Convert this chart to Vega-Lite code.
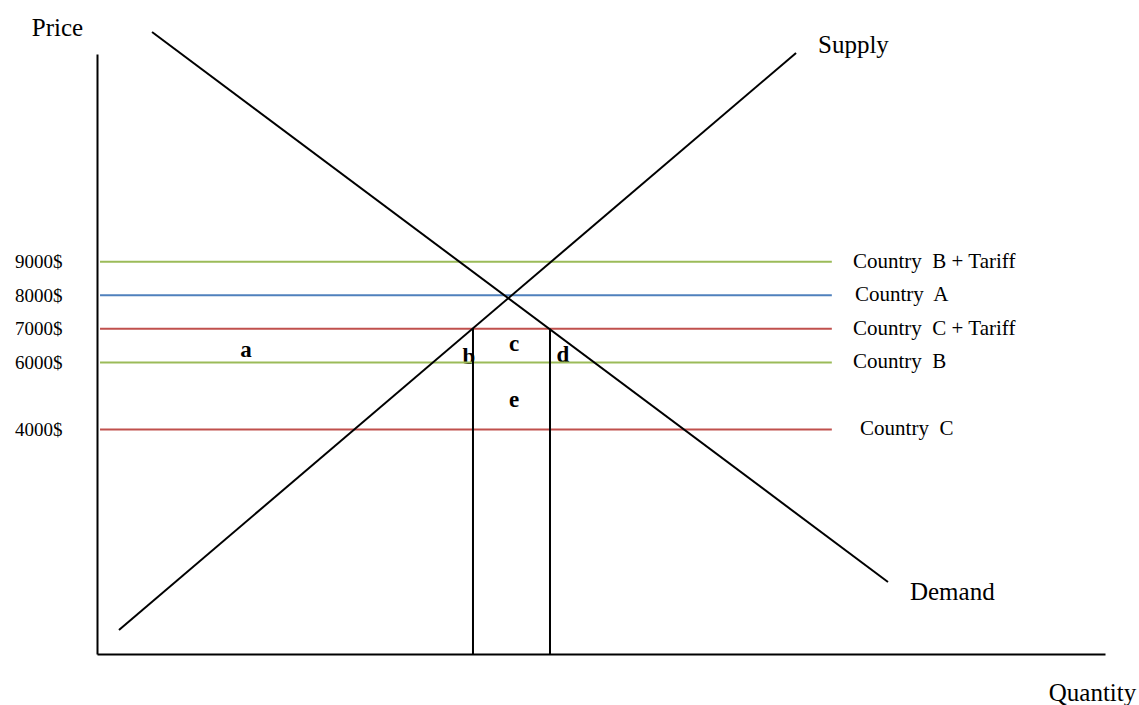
{
  "$schema": "https://vega.github.io/schema/vega-lite/v6.json",
  "width": 1008,
  "height": 600,
  "autosize": {"type": "none"},
  "padding": {"left": 97, "top": 54, "right": 34, "bottom": 51},
  "background": "white",
  "config": {"view": {"stroke": null}},
  "data": {
    "values": [
      {"type": "letter", "label": "a", "q": 14.78, "p": 6369},
      {"type": "letter", "label": "b", "q": 36.9, "p": 6160},
      {"type": "letter", "label": "c", "q": 41.37, "p": 6548},
      {"type": "letter", "label": "d", "q": 46.23, "p": 6220},
      {"type": "letter", "label": "e", "q": 41.37, "p": 4878},
      {"type": "hline", "group": "Country B + Tariff", "q": 0.3, "q2": 72.9, "p": 9000},
      {"type": "hline", "group": "Country A", "q": 0.3, "q2": 72.9, "p": 8000},
      {"type": "hline", "group": "Country C + Tariff", "q": 0.3, "q2": 72.9, "p": 7000},
      {"type": "hline", "group": "Country B", "q": 0.3, "q2": 72.9, "p": 6000},
      {"type": "hline", "group": "Country C", "q": 0.3, "q2": 72.9, "p": 4000},
      {"type": "seg", "label": "Supply", "q": 2.18, "p": -1984, "q2": 69.35, "p2": 15230},
      {"type": "seg", "label": "Demand", "q": 5.46, "p": 15856, "q2": 78.47, "p2": -552},
      {"type": "seg", "label": "import1", "q": 37.3, "p": 7000, "q2": 37.3, "p2": -2700},
      {"type": "seg", "label": "import2", "q": 44.94, "p": 7000, "q2": 44.94, "p2": -2700},
      {"type": "label", "label": "Country\u00a0 B + Tariff", "q": 75.0, "p": 9000},
      {"type": "label", "label": "Country\u00a0 A", "q": 75.2, "p": 8000},
      {"type": "label", "label": "Country\u00a0 C + Tariff", "q": 75.0, "p": 7000},
      {"type": "label", "label": "Country\u00a0 B", "q": 75.0, "p": 6000},
      {"type": "label", "label": "Country\u00a0 C", "q": 75.7, "p": 4000},
      {"type": "curve", "label": "Supply", "q": 71.53, "p": 15468},
      {"type": "curve", "label": "Demand", "q": 80.65, "p": -850}
    ]
  },
  "encoding": {
    "x": {
      "field": "q",
      "type": "quantitative",
      "scale": {"domain": [0, 100], "nice": false, "zero": false},
      "axis": {
        "title": "Quantity",
        "domain": true,
        "domainColor": "black",
        "domainWidth": 2,
        "ticks": false,
        "labels": false,
        "grid": false,
        "titleX": 995,
        "titleY": 46,
        "titleAlign": "center",
        "titleBaseline": "alphabetic",
        "titleFont": "Liberation Serif",
        "titleFontSize": 25,
        "titleFontWeight": "normal",
        "titleColor": "black"
      }
    },
    "y": {
      "field": "p",
      "type": "quantitative",
      "scale": {"domain": [-2700, 15200], "nice": false, "zero": false},
      "axis": {
        "title": "Price",
        "values": [4000, 6000, 7000, 8000, 9000],
        "labelExpr": "datum.value + '$'",
        "ticks": false,
        "grid": false,
        "domainColor": "black",
        "domainWidth": 2,
        "labelPadding": 35,
        "labelFont": "Liberation Serif",
        "labelFontSize": 19,
        "labelColor": "black",
        "titleAngle": 0,
        "titleX": -40,
        "titleY": -19,
        "titleAlign": "center",
        "titleBaseline": "alphabetic",
        "titleFont": "Liberation Serif",
        "titleFontSize": 25,
        "titleFontWeight": "normal",
        "titleColor": "black"
      }
    }
  },
  "layer": [
    {
      "transform": [{"filter": "datum.type == 'letter'"}],
      "mark": {"type": "text", "font": "Liberation Serif", "fontSize": 23, "fontWeight": "bold", "align": "center", "baseline": "middle", "color": "black"},
      "encoding": {"text": {"field": "label"}}
    },
    {
      "transform": [{"filter": "datum.type == 'hline'"}],
      "mark": {"type": "rule", "strokeWidth": 2},
      "encoding": {
        "x2": {"field": "q2"},
        "color": {
          "field": "group",
          "type": "nominal",
          "scale": {
            "domain": ["Country B + Tariff", "Country A", "Country C + Tariff", "Country B", "Country C"],
            "range": ["#9BBB59", "#4F81BD", "#C0504D", "#9BBB59", "#C0504D"]
          },
          "legend": null
        }
      }
    },
    {
      "transform": [{"filter": "datum.type == 'seg'"}],
      "mark": {"type": "rule", "strokeWidth": 2, "color": "black"},
      "encoding": {
        "x2": {"field": "q2"},
        "y2": {"field": "p2"}
      }
    },
    {
      "transform": [{"filter": "datum.type == 'label'"}],
      "mark": {"type": "text", "font": "Liberation Serif", "fontSize": 21, "align": "left", "baseline": "middle", "color": "black"},
      "encoding": {"text": {"field": "label"}}
    },
    {
      "transform": [{"filter": "datum.type == 'curve'"}],
      "mark": {"type": "text", "font": "Liberation Serif", "fontSize": 25, "align": "left", "baseline": "middle", "color": "black"},
      "encoding": {"text": {"field": "label"}}
    }
  ]
}
